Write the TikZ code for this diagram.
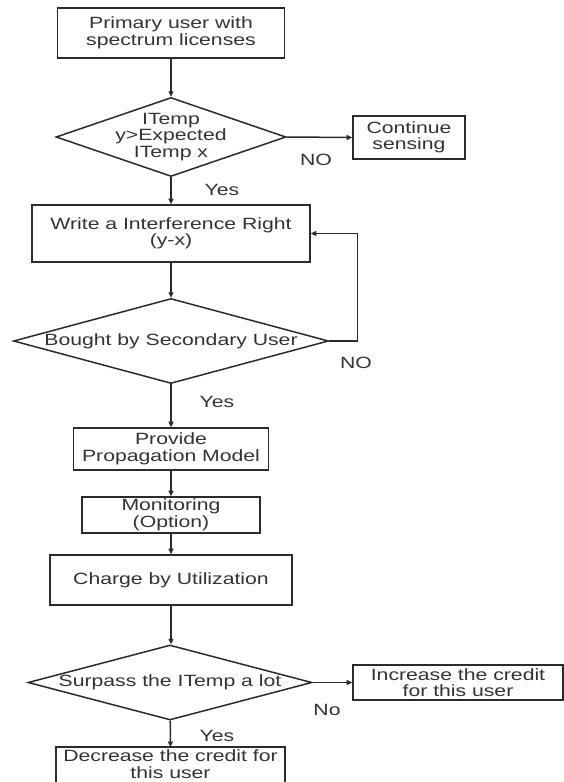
\documentclass[tikz,border=0pt]{standalone}
\usepackage{fontspec}
\setmainfont{Liberation Sans}[FakeStretch=1.3]
\usetikzlibrary{shapes.geometric,arrows.meta}
\definecolor{ink}{HTML}{2B2B2B}
\definecolor{txt}{HTML}{333333}
\begin{document}
\begin{tikzpicture}[x=1pt,y=-1pt,
  every node/.style={font=\fontsize{16.3}{16.5}\selectfont, text=txt},
  edge line/.style={draw=ink, line width=1.6pt},
  stepbox/.style={edge line, rectangle, align=center, inner sep=0pt},
  decision/.style={draw=ink, line width=1.5pt, diamond, inner sep=0pt},
  inside/.style={label={[align=center]center:#1}},
  flow/.style={draw=ink, line width=1.5pt, -{Triangle[length=5.5pt,width=5pt]}},
  tag/.style={inner sep=0pt}
]
\clip (0,0) rectangle (564,782);
\fill[white] (0,0) rectangle (564,782);

% main column
\node[stepbox, minimum width=227pt, minimum height=50pt] (lic) at (171,33)
  {Primary user with\\spectrum licenses};
\node[decision, minimum width=230pt, minimum height=79pt,
  inside={ITemp\\y>Expected\\ITemp x}] (check) at (171,137) {};
\node[stepbox, minimum width=112pt, minimum height=43pt] (sense) at (409,137.5)
  {Continue\\sensing};
\node[stepbox, minimum width=278pt, minimum height=57pt] (right) at (171,233.5)
  {Write a Interference Right\\(y-x)};
\node[decision, minimum width=315pt, minimum height=85pt,
  inside={Bought by Secondary User}] (bought) at (171,341) {};
\node[stepbox, minimum width=195pt, minimum height=42pt] (model) at (171,449)
  {Provide\\Propagation Model};
\node[stepbox, minimum width=178pt, minimum height=36pt] (monitor) at (171,515)
  {Monitoring\\(Option)};
\node[stepbox, minimum width=242pt, minimum height=50pt] (charge) at (171,580)
  {Charge by Utilization};
\node[decision, minimum width=284pt, minimum height=75pt,
  inside={Surpass the ITemp a lot}] (surpass) at (170,682.5) {};
\node[stepbox, minimum width=210pt, minimum height=35pt] (inc) at (458,682.5)
  {Increase the credit\\for this user};
% the last box is open at the bottom: it runs past the lower edge of the page
\node[align=center, inner sep=0pt, anchor=north, minimum width=229pt, minimum height=34pt]
  (dec) at (170.5,747) {Decrease the credit for\\this user};
\draw[edge line] ([yshift=-6pt]dec.south west) |- (dec.north east) -- ([yshift=-6pt]dec.south east);

% branch labels
\node[tag] (no1) at (316,160) {NO};
\node[tag] (yes1) at (222,190) {Yes};
\node[tag] (no2) at (356,363) {NO};
\node[tag] (yes2) at (217,402) {Yes};
\node[tag] (no3) at (327,710) {No};
\node[tag] (yes3) at (217,736) {Yes};

% connectors
\draw[flow] (lic) -- (check);
\draw[flow] (check.east) -- (sense.west);
\draw[flow] (check) -- (right);
\draw[flow] (right) -- (bought);
\draw[flow] (bought.east) -- ++(28,0) |- (right.east);
\draw[flow] (bought) -- (model);
\draw[flow] (model) -- (monitor);
\draw[flow] (monitor) -- (charge);
\draw[flow] (charge.south) -- (charge.south |- surpass.north);
\draw[flow] (surpass.east) -- (inc.west);
\draw[flow] (surpass) -- (dec);
\end{tikzpicture}
\end{document}
